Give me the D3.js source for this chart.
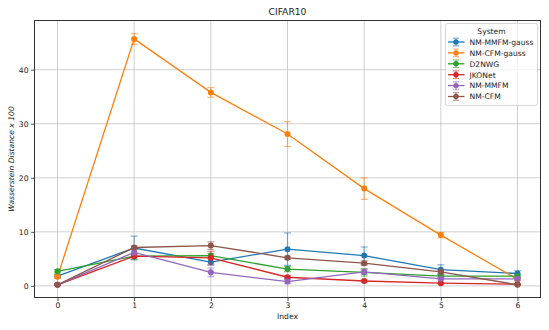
<!DOCTYPE html>
<html>
<head>
<meta charset="utf-8">
<script src="https://cdn.jsdelivr.net/npm/d3@7"></script>
<style>
  body { margin: 0; background: #fff; }
  svg text { font-family: "DejaVu Sans", sans-serif; fill: #222; }
</style>
</head>
<body>
<div id="container"></div>
<script>
// data
var indexes = [0, 1, 2, 3, 4, 5, 6];
var systems = ["NM-MMFM-gauss", "NM-CFM-gauss", "D2NWG", "JKONet", "NM-MMFM", "NM-CFM"];
var colors = ["#1f77b4", "#ff7f0e", "#2ca02c", "#d62728", "#9467bd", "#8c564b"];

var mmfmGauss    = [1.8, 7.0, 4.4, 6.8, 5.6, 3.0, 2.3];
var mmfmGaussErr = [0.3, 2.2, 0.6, 3.0, 1.6, 0.9, 0.5];
var cfmGauss     = [1.7, 45.7, 35.8, 28.1, 18.0, 9.4, 1.2];
var cfmGaussErr  = [0.3, 1.0, 0.9, 2.3, 2.0, 0.5, 0.3];
var d2nwg        = [2.7, 5.5, 5.6, 3.1, 2.5, 1.8, 1.8];
var d2nwgErr     = [0.3, 0.6, 0.4, 0.5, 0.7, 0.3, 0.3];
var jkonet       = [0.2, 5.5, 5.2, 1.6, 0.9, 0.5, 0.3];
var jkonetErr    = [0.1, 0.3, 1.2, 0.3, 0.2, 0.1, 0.1];
var nmMmfm       = [0.2, 6.2, 2.5, 0.8, 2.6, 1.3, 1.3];
var nmMmfmErr    = [0.1, 0.5, 0.8, 0.4, 0.5, 0.2, 0.2];
var nmCfm        = [0.2, 7.1, 7.45, 5.2, 4.2, 2.6, 0.2];
var nmCfmErr     = [0.1, 0.3, 0.7, 0.3, 0.4, 0.3, 0.1];

var yTicks = [0, 10, 20, 30, 40];

var series = [
  {name: systems[0], values: mmfmGauss, errs: mmfmGaussErr},
  {name: systems[1], values: cfmGauss, errs: cfmGaussErr},
  {name: systems[2], values: d2nwg, errs: d2nwgErr},
  {name: systems[3], values: jkonet, errs: jkonetErr},
  {name: systems[4], values: nmMmfm, errs: nmMmfmErr},
  {name: systems[5], values: nmCfm, errs: nmCfmErr}
];

// dimensions
var W = 549, H = 330;
var margin = {top: 20.5, right: 8.5, bottom: 32.5, left: 34.5},
    width = W - margin.left - margin.right,
    height = H - margin.top - margin.bottom;

var svgRoot = d3.select("#container")
  .append("svg")
    .attr("width", W)
    .attr("height", H);

var svg = svgRoot.append("g")
    .attr("transform", "translate(" + margin.left + "," + margin.top + ")");

var x = d3.scaleLinear().domain([-0.3, 6.3]).range([0, width]);
var y = d3.scaleLinear().domain([-2.15, 49.1]).range([height, 0]);

// grid
svg.append("g").selectAll("line")
  .data(indexes).enter().append("line")
    .attr("x1", function(d) { return x(d); })
    .attr("x2", function(d) { return x(d); })
    .attr("y1", 0).attr("y2", height)
    .attr("stroke", "#b0b0b0").attr("stroke-opacity", 0.6).attr("stroke-width", 1);

svg.append("g").selectAll("line")
  .data(yTicks).enter().append("line")
    .attr("y1", function(d) { return y(d); })
    .attr("y2", function(d) { return y(d); })
    .attr("x1", 0).attr("x2", width)
    .attr("stroke", "#b0b0b0").attr("stroke-opacity", 0.6).attr("stroke-width", 1);

// axes
var xAxis = svg.append("g")
  .attr("transform", "translate(0," + height + ")")
  .call(d3.axisBottom(x).tickValues(indexes).tickSize(3.5).tickPadding(2).tickFormat(d3.format("d")));
var yAxis = svg.append("g")
  .call(d3.axisLeft(y).tickValues(yTicks).tickSize(3.5).tickPadding(2.5));

[xAxis, yAxis].forEach(function(a) {
  a.select(".domain").remove();
  a.selectAll("line").attr("stroke", "#222").attr("stroke-width", 0.8);
  a.selectAll("text")
    .style("font-family", "DejaVu Sans")
    .style("font-size", "7.6px")
    .attr("fill", "#222");
});

// error bars then lines per series
var line = d3.line()
  .x(function(d, i) { return x(indexes[i]); })
  .y(function(d) { return y(d); });

series.forEach(function(s, k) {
  var g = svg.append("g");
  var c = colors[k];
  var pts = s.values.map(function(v, i) { return {x: indexes[i], v: v, e: s.errs[i]}; });

  var eb = g.selectAll(".eb").data(pts).enter().append("g")
    .attr("stroke", c).attr("stroke-opacity", 0.55).attr("stroke-width", 1.2);
  eb.append("line")
    .attr("x1", function(d) { return x(d.x); })
    .attr("x2", function(d) { return x(d.x); })
    .attr("y1", function(d) { return y(d.v - d.e); })
    .attr("y2", function(d) { return y(d.v + d.e); });
  [-1, 1].forEach(function(sg) {
    eb.append("line")
      .attr("x1", function(d) { return x(d.x) - 3.5; })
      .attr("x2", function(d) { return x(d.x) + 3.5; })
      .attr("y1", function(d) { return y(d.v + sg * d.e); })
      .attr("y2", function(d) { return y(d.v + sg * d.e); });
  });

  g.append("path")
    .datum(s.values)
    .attr("d", line)
    .attr("fill", "none")
    .attr("stroke", c)
    .attr("stroke-width", 1.3);

  g.selectAll("circle").data(pts).enter().append("circle")
    .attr("cx", function(d) { return x(d.x); })
    .attr("cy", function(d) { return y(d.v); })
    .attr("r", 3)
    .attr("fill", c);
});

// frame
svg.append("rect")
  .attr("width", width).attr("height", height)
  .attr("fill", "none").attr("stroke", "#333").attr("stroke-width", 1);

// title and labels
svgRoot.append("text")
  .attr("x", margin.left + width / 2).attr("y", 15)
  .attr("text-anchor", "middle")
  .style("font-size", "9.2px")
  .text("CIFAR10");

svgRoot.append("text")
  .attr("x", margin.left + width / 2).attr("y", 319)
  .attr("text-anchor", "middle")
  .style("font-size", "7.6px")
  .text("Index");

svgRoot.append("text")
  .attr("transform", "translate(14," + (margin.top + height / 2) + ") rotate(-90)")
  .attr("text-anchor", "middle")
  .style("font-size", "7.6px")
  .style("font-style", "italic")
  .text("Wasserstein Distance x 100");

// legend
var lg = svgRoot.append("g").attr("transform", "translate(445.5,23.5)");
lg.append("rect")
  .attr("width", 92).attr("height", 82).attr("rx", 2)
  .attr("fill", "#fff").attr("fill-opacity", 0.8)
  .attr("stroke", "#ccc").attr("stroke-width", 0.8);
lg.append("text")
  .attr("x", 46).attr("y", 10)
  .attr("text-anchor", "middle")
  .style("font-size", "7.6px")
  .text("System");

var items = lg.selectAll(".item").data(series).enter().append("g")
  .attr("transform", function(d, i) { return "translate(0," + (18.5 + i * 10.9) + ")"; });
items.append("line")
  .attr("x1", 2.5).attr("x2", 19)
  .attr("stroke", function(d, i) { return colors[i]; })
  .attr("stroke-width", 1.3);
items.append("line")
  .attr("x1", 10.5).attr("x2", 10.5).attr("y1", -3.8).attr("y2", 3.8)
  .attr("stroke", function(d, i) { return colors[i]; }).attr("stroke-opacity", 0.55).attr("stroke-width", 1.2);
[-3.8, 3.8].forEach(function(dy) {
  items.append("line")
    .attr("x1", 7.5).attr("x2", 13.5).attr("y1", dy).attr("y2", dy)
    .attr("stroke", function(d, i) { return colors[i]; }).attr("stroke-opacity", 0.55).attr("stroke-width", 1.2);
});
items.append("circle")
  .attr("cx", 10.5).attr("r", 2.7)
  .attr("fill", function(d, i) { return colors[i]; });
items.append("text")
  .attr("x", 24).attr("y", 2.8)
  .style("font-size", "7.6px")
  .text(function(d) { return d.name; });
</script>
</body>
</html>
